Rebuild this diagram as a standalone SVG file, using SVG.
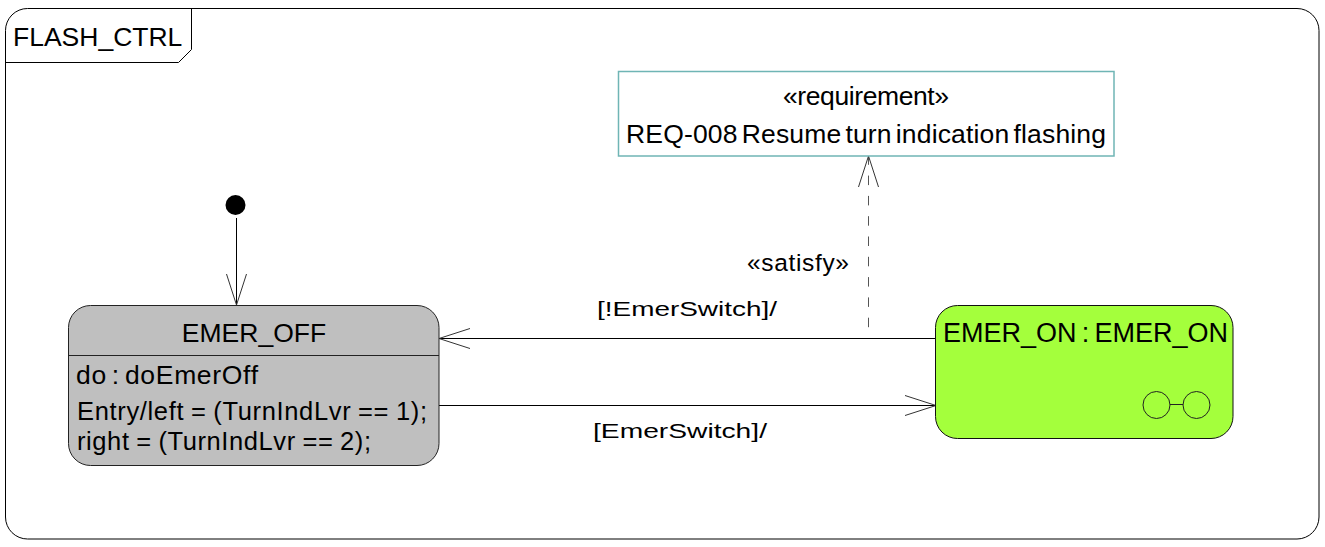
<svg xmlns="http://www.w3.org/2000/svg" width="1325" height="547" viewBox="0 0 1325 547">
<style>
text{font-family:"Liberation Sans",Arial,sans-serif;fill:#000;font-size:26.5px}
.m{text-anchor:middle}
.l{font-size:20.500px}
.b{font-size:25.500px;word-spacing:-1px}
.conn{fill:none;stroke:#000;stroke-width:1}
.head{fill:none;stroke:#333;stroke-width:1}
.ico{fill:none;stroke:#222;stroke-width:1}
</style>
<rect width="1325" height="547" fill="#fff"/>
<g id="frame">
<rect x="5.500" y="8.500" width="1313.500" height="530.500" rx="22" ry="22" fill="#fff" stroke="#000" stroke-width="1"/>
<path d="M5.500 62.500H178.500L191.500 49.500V8.500" fill="none" stroke="#000" stroke-width="1"/>
<text x="13" y="46">FLASH_CTRL</text>
</g>
<g id="connectors">
<path class="conn" d="M236.500 218V305"/>
<path class="head" d="M226.500 274L236.500 305L246.500 274"/>
<path class="conn" d="M439 338.500H935"/>
<path class="head" d="M470 328.500L439 338.500L470 348.500"/>
<path class="conn" d="M439 405.500H935"/>
<path class="head" d="M905 395.500L936 405.500L905 415.500"/>
<path d="M868.500 338V157" fill="none" stroke="#555" stroke-width="1" stroke-dasharray="9.500 10.800" stroke-dashoffset="9.500"/>
<path class="head" d="M858.500 187L868.500 156L878.500 187"/>
<text class="l" x="597" y="315.500" textLength="180" lengthAdjust="spacingAndGlyphs">[!EmerSwitch]/</text>
<text class="l" x="593" y="437.500" textLength="174" lengthAdjust="spacingAndGlyphs">[EmerSwitch]/</text>
<text x="747" y="271" textLength="102" style="font-size:24.500px">«satisfy»</text>
</g>
<g id="initial"><circle cx="235.500" cy="205" r="10" fill="#000"/></g>
<g id="EMER_OFF">
<rect x="68.500" y="305.500" width="370.500" height="160" rx="22" ry="22" fill="#bfbfbf" stroke="#222" stroke-width="1"/>
<path d="M68.500 355.500H439" stroke="#222" stroke-width="1" fill="none"/>
<text x="254" y="342" class="m">EMER_OFF</text>
<text x="76" y="384" textLength="182" style="word-spacing:-3px">do : doEmerOff</text>
<text class="b" x="77" y="420" textLength="350">Entry/left = (TurnIndLvr == 1);</text>
<text class="b" x="77" y="450" textLength="294">right = (TurnIndLvr == 2);</text>
</g>
<g id="EMER_ON">
<rect x="935.500" y="305.500" width="297.500" height="133" rx="22" ry="22" fill="#a4ff3c" stroke="#111" stroke-width="1"/>
<text x="943" y="342" style="font-size:27px;word-spacing:-2.300px">EMER_ON : EMER_ON</text>
<circle class="ico" cx="1156.500" cy="405" r="13.500"/>
<circle class="ico" cx="1196.500" cy="405" r="13.500"/>
<path class="ico" d="M1170 404.500H1183"/>
</g>
<g id="requirement">
<rect x="618.500" y="71.500" width="495.500" height="84.500" fill="#fff" stroke="#6fb5b5" stroke-width="1.500"/>
<text x="866" y="105" class="m" textLength="166">«requirement»</text>
<text x="626" y="143" textLength="480" style="word-spacing:-3.500px">REQ-008 Resume turn indication flashing</text>
</g>
</svg>
